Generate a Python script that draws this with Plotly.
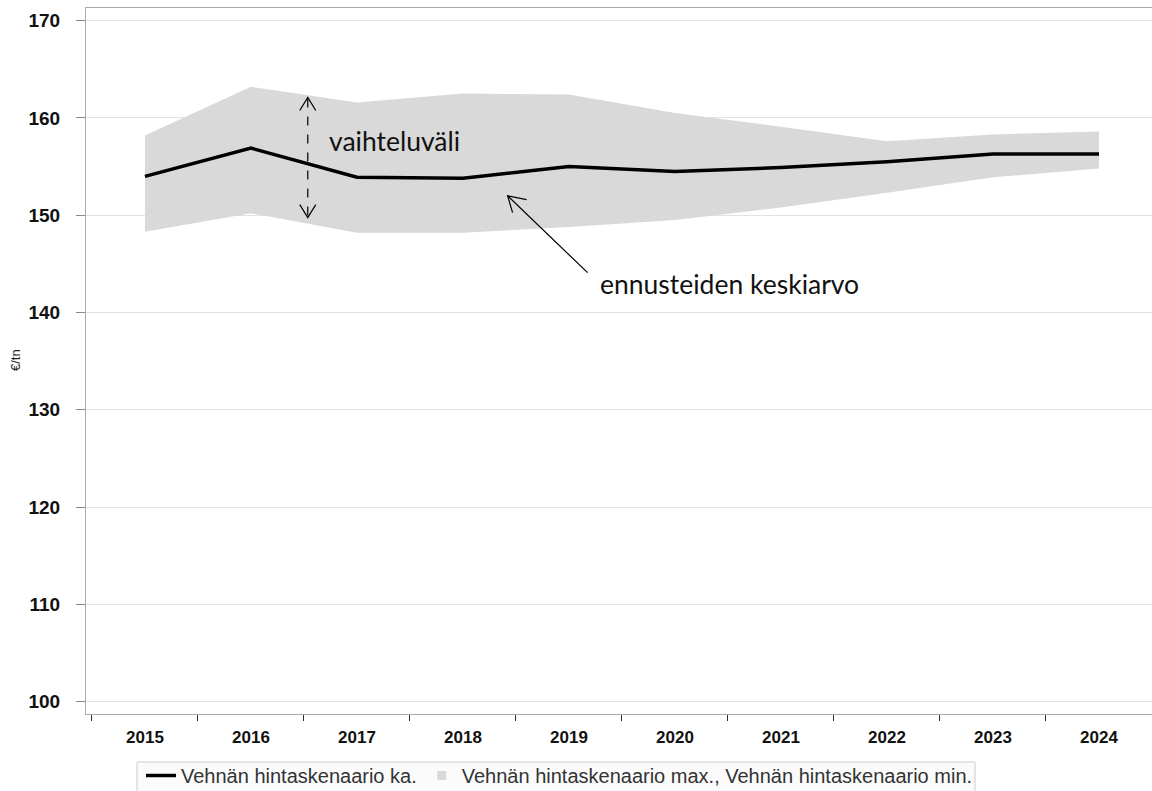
import plotly.graph_objects as go

years = ["2015", "2016", "2017", "2018", "2019", "2020", "2021", "2022", "2023", "2024"]
mean_vals = [154.0, 156.9, 153.9, 153.8, 155.0, 154.5, 154.9, 155.5, 156.3, 156.3]
max_vals = [158.2, 163.2, 161.6, 162.5, 162.4, 160.5, 159.1, 157.6, 158.3, 158.6]
min_vals = [148.3, 150.2, 148.2, 148.2, 148.8, 149.5, 150.8, 152.3, 153.9, 154.8]
y_ticks = [100, 110, 120, 130, 140, 150, 160, 170]

name_mean = "Vehnän hintaskenaario ka."
name_band = "Vehnän hintaskenaario max., Vehnän hintaskenaario min."
band_color = "#d9d9d9"

fig = go.Figure()
fig.add_trace(go.Scatter(x=years, y=min_vals, mode="lines", line=dict(width=0, color=band_color),
                         showlegend=False, hoverinfo="skip"))
fig.add_trace(go.Scatter(x=years, y=max_vals, mode="lines", line=dict(width=0, color=band_color),
                         fill="tonexty", fillcolor=band_color, showlegend=False))
fig.add_trace(go.Scatter(x=years, y=mean_vals, mode="lines", line=dict(width=3.5, color="#000000"),
                         name=name_mean))
# legend entry for the band (square swatch)
fig.add_trace(go.Scatter(x=[None], y=[None], mode="markers",
                         marker=dict(symbol="square", size=9, color=band_color),
                         name=name_band))

ann_font = dict(family="Lato, Open Sans, sans-serif", size=26.5, color="#111111")

# dashed double arrow (vaihteluväli)
fig.add_shape(type="line", xref="x", yref="y", x0=1.536, x1=1.536, y0=162.0, y1=149.8,
              line=dict(color="#000000", width=1.2, dash="dash"))
fig.add_shape(type="path", xref="x", yref="y", xsizemode="pixel", ysizemode="pixel",
              xanchor=1.536, yanchor=162.1, path="M -8,-13 L 0,0 L 8,-13",
              line=dict(color="#000000", width=1.2))
fig.add_shape(type="path", xref="x", yref="y", xsizemode="pixel", ysizemode="pixel",
              xanchor=1.536, yanchor=149.75, path="M -8,13 L 0,0 L 8,13",
              line=dict(color="#000000", width=1.2))
fig.add_annotation(x=1.72, y=157.6, xref="x", yref="y", text="vaihteluväli", showarrow=False,
                   xanchor="left", yanchor="middle", font=ann_font)

# arrow to mean line
fig.add_shape(type="path", xref="x", yref="y", xsizemode="pixel", ysizemode="pixel",
              xanchor=3.421, yanchor=152.01,
              path="M 80,-77 L 0,0 M 19,-4 L 0,0 L 5,-17",
              line=dict(color="#000000", width=1.2))
fig.add_annotation(x=4.27, y=142.9, xref="x", yref="y", text="ennusteiden keskiarvo", showarrow=False,
                   xanchor="left", yanchor="middle", font=ann_font)

# y-axis title
fig.add_annotation(x=(15 - 86) / 1066, y=(714 - 360) / 706, xref="paper", yref="paper",
                   xanchor="center", yanchor="middle",
                   text="€/tn", showarrow=False, textangle=-90,
                   font=dict(size=13, color="#222222", family="Liberation Sans, Arial, sans-serif"))

# legend box
fig.add_shape(type="rect", xref="paper", yref="paper",
              x0=(137 - 86) / 1066, x1=(975 - 86) / 1066,
              y0=-(762 - 714) / 706, y1=-(800 - 714) / 706,
              fillcolor="#fbfbfb", line=dict(color="#cccccc", width=1), layer="above")

fig.update_layout(
    width=1152, height=791,
    margin=dict(l=86, r=0, t=8, b=77, autoexpand=False),
    paper_bgcolor="white", plot_bgcolor="white",
    font=dict(family="Liberation Sans, Arial, sans-serif", color="#222222"),
    showlegend=True,
    legend=dict(orientation="h", traceorder="normal",
                x=(141 - 86) / 1066, xanchor="left", y=-(756 - 714) / 706, yanchor="top",
                bgcolor="rgba(0,0,0,0)", borderwidth=0,
                font=dict(size=20, color="#333333", family="Liberation Sans, Arial, sans-serif"),
                itemwidth=30, tracegroupgap=0),
    xaxis=dict(type="category", range=[-0.556, 9.5], tickson="boundaries",
               ticks="outside", ticklen=6, tickcolor="#333333", tickwidth=1,
               showline=True, linecolor="#aaaaaa", linewidth=1, mirror=True, showgrid=False,
               ticklabelstandoff=8,
               tickfont=dict(size=17, family="Liberation Sans, Arial, sans-serif", color="#111111",
                             weight="bold"),
               fixedrange=True),
    yaxis=dict(range=[98.74, 171.3], tickvals=y_ticks, ticks="outside", ticklen=9,
               tickcolor="#888888", showline=True, linecolor="#aaaaaa", linewidth=1, mirror=True,
               showgrid=True, gridcolor="#e3e3e3", gridwidth=1, zeroline=False,
               ticklabelstandoff=12,
               tickfont=dict(size=19, family="Liberation Sans, Arial, sans-serif", color="#111111",
                             weight="bold")),
)

fig.write_html("out.html", config={"displayModeBar": False},
               post_script="document.body.style.margin='0';document.body.style.overflow='hidden';")
